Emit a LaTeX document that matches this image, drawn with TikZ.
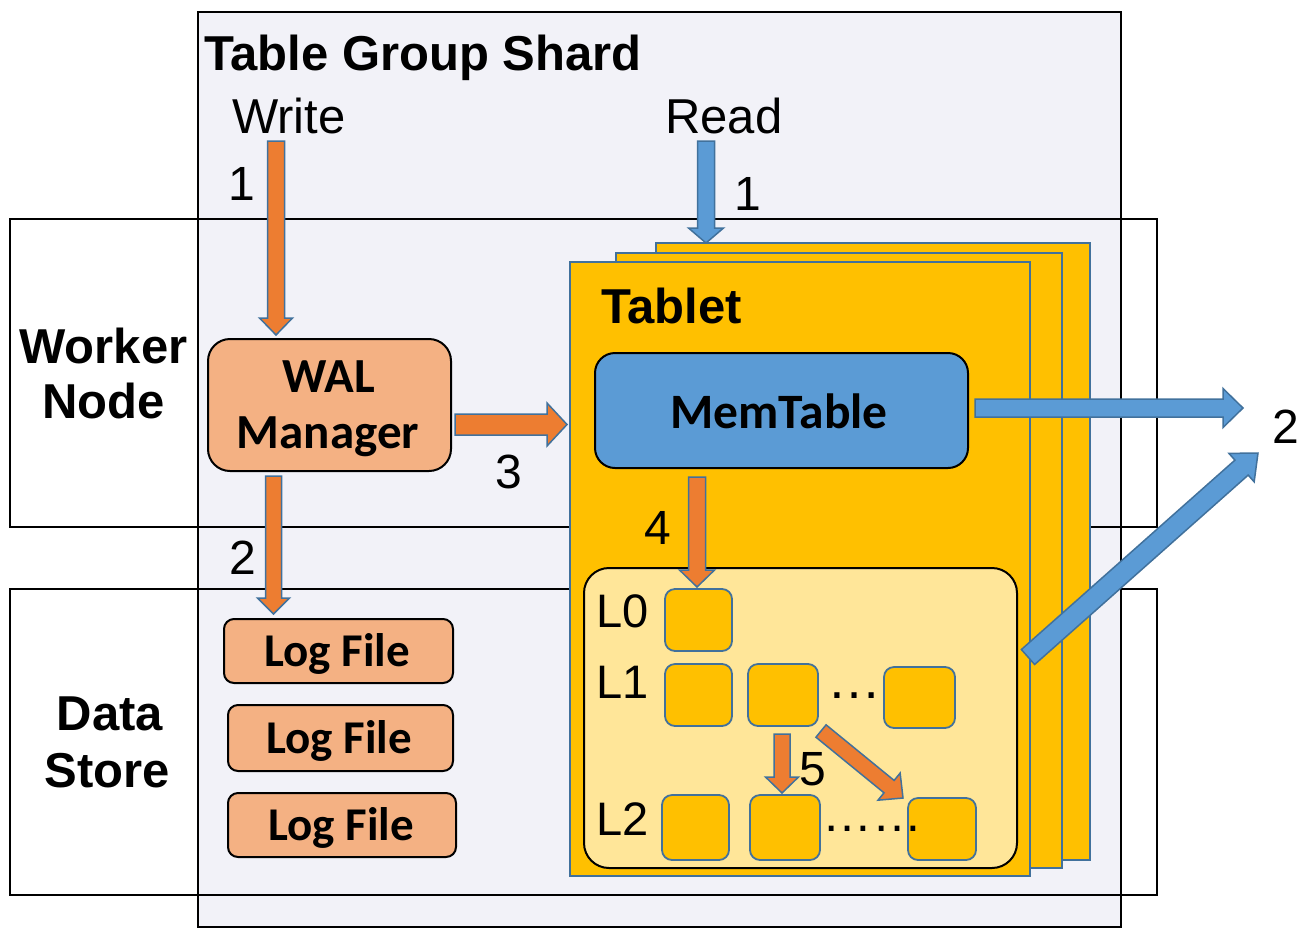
\documentclass[tikz,border=0pt]{standalone}
\usepackage{fontspec}
\setmainfont{Liberation Sans}
\newfontfamily\calib{Carlito}
\usetikzlibrary{calc}
\definecolor{shardbg}{HTML}{F2F2F8}
\definecolor{orng}{HTML}{ED7D31}
\definecolor{blu}{HTML}{5B9BD5}
\definecolor{edgeblue}{HTML}{41719C}
\definecolor{walfill}{HTML}{F4B183}
\definecolor{tabfill}{HTML}{FFC000}
\definecolor{lsmfill}{HTML}{FFE699}
\newcommand\blockarrow[6]{%
  \coordinate (ahb) at ($(#3)!#6!(#2)$);
  \draw[fill=#1, draw=edgeblue, line width=1.5pt, line join=miter]
    ($(#2)!#4!90:(#3)$) -- ($(ahb)!#4!90:(#3)$) -- ($(ahb)!#5!90:(#3)$) -- (#3)
    -- ($(ahb)!#5!-90:(#3)$) -- ($(ahb)!#4!-90:(#3)$) -- ($(#2)!#4!-90:(#3)$) -- cycle;
}
\tikzset{
  frame/.style={draw=black, line width=2pt},
  rbox/.style={draw=black, line width=2pt, inner sep=0pt},
  tabsheet/.style={draw=edgeblue, fill=tabfill, line width=2pt},
  sst/.style={draw=edgeblue, fill=tabfill, line width=1.8pt, rounded corners=10pt, inner sep=0pt},
  big/.style={font=\fontsize{49}{52}\selectfont, inner sep=0pt},
  lvl/.style={font=\fontsize{47}{52}\selectfont, inner sep=0pt, anchor=base west},
  bigb/.style={font=\bfseries\fontsize{49}{52}\selectfont, inner sep=0pt},
  num/.style={font=\fontsize{48}{50}\selectfont, inner sep=0pt, anchor=base},
  cal/.style={font=\calib\bfseries\fontsize{#1}{50}\selectfont, inner sep=0pt, anchor=base},
  cal/.default=47,
}
\begin{document}
\begin{tikzpicture}[x=1pt,y=-1pt]
\useasboundingbox (0,0) rectangle (1305,938);
% shard and bands
\node[frame, fill=shardbg, minimum width=923pt, minimum height=915pt, inner sep=0pt] (shard) at (659.5,469.5) {};
\node[frame, minimum width=1147pt, minimum height=308pt, inner sep=0pt] (worker) at (583.5,373) {};
\node[frame, minimum width=1147pt, minimum height=306pt, inner sep=0pt] (datastore) at (583.5,742) {};
% titles
\node[font=\bfseries\fontsize{49}{52}\selectfont, inner sep=0pt, anchor=base west] (tgs) at (204,70) {Table Group Shard};
\node[big, anchor=base west] (write) at (232,133) {Write};
\node[big, anchor=base west] (read) at (665,133) {Read};
\node[bigb, anchor=base] (wk1) at (103.5,363) {Worker};
\node[bigb, anchor=base] (wk2) at (103.5,418) {Node};
\node[bigb, anchor=base] (ds1) at (110,730) {Data};
\node[bigb, anchor=base] (ds2) at (107.5,787) {Store};
% WAL manager and log files
\node[rbox, fill=walfill, rounded corners=22pt, minimum width=243pt, minimum height=132pt] (wal) at (329.5,405) {};
\node[cal=49] (walt1) at (329,392) {WAL};
\node[cal=49] (walt2) at (328,448) {Manager};
\node[rbox, fill=walfill, rounded corners=10pt, minimum width=229pt, minimum height=64pt] (log1) at (338.5,651) {};
\node[rbox, fill=walfill, rounded corners=10pt, minimum width=225pt, minimum height=66pt] (log2) at (340.5,738) {};
\node[rbox, fill=walfill, rounded corners=10pt, minimum width=228pt, minimum height=64pt] (log3) at (342,825) {};
\node[cal=47] (logt1) at (337,666) {Log File};
\node[cal=47] (logt2) at (339,753) {Log File};
\node[cal=47] (logt3) at (341,840) {Log File};
% write path arrows
\coordinate (w0) at (276,141); \coordinate (w1) at (276,335);
\blockarrow{orng}{w0}{w1}{8.5pt}{16.5pt}{17pt}
\coordinate (l0) at (273.5,476); \coordinate (l1) at (273.5,614);
\blockarrow{orng}{l0}{l1}{8pt}{16pt}{16pt}
\coordinate (m0) at (455,424.5); \coordinate (m1) at (567,424.5);
\blockarrow{orng}{m0}{m1}{10.5pt}{21.5pt}{20pt}
\node[num] (n1w) at (242,200) {1};
\node[num] (n2w) at (243,574) {2};
\node[num] (n3w) at (509,488) {3};
% tablets
\node[tabsheet, minimum width=434pt, minimum height=617pt, inner sep=0pt] (tab3) at (873,551.5) {};
\node[tabsheet, minimum width=446pt, minimum height=615pt, inner sep=0pt] (tab2) at (839,560.5) {};
\node[tabsheet, minimum width=460pt, minimum height=614pt, inner sep=0pt] (tab1) at (800,569) {};
\node[bigb, anchor=base west] (tabt) at (601,323) {Tablet};
\coordinate (r0) at (706,141); \coordinate (r1) at (706,243);
\blockarrow{blu}{r0}{r1}{8.5pt}{17.5pt}{15pt}
\node[num] (n1r) at (748,210) {1};
% memtable
\node[rbox, fill=blu, rounded corners=20pt, minimum width=373pt, minimum height=115pt] (mem) at (781.5,410.5) {};
\node[cal=49.5] (memt) at (779,428) {MemTable};
% LSM container
\node[rbox, fill=lsmfill, rounded corners=25pt, minimum width=433pt, minimum height=300pt] (lsm) at (800.5,718) {};
\node[sst, minimum width=67pt, minimum height=62pt] (s00) at (698.5,620) {};
\node[sst, minimum width=67pt, minimum height=62pt] (s10) at (698.5,695) {};
\node[sst, minimum width=70pt, minimum height=62pt] (s11) at (783,695) {};
\node[sst, minimum width=71pt, minimum height=61pt] (s12) at (919.5,697.5) {};
\node[sst, minimum width=67pt, minimum height=65pt] (s20) at (695.5,827.5) {};
\node[sst, minimum width=70pt, minimum height=65pt] (s21) at (785,827.5) {};
\node[sst, minimum width=68pt, minimum height=62pt] (s22) at (942,829) {};
\node[lvl] (lv0) at (596,627) {L0};
\node[lvl] (lv1) at (596,698) {L1};
\node[lvl] (lv2) at (596,835) {L2};
\node[font=\fontsize{54}{56}\selectfont, inner sep=0pt, anchor=base] (dots1) at (854,698) {…};
\node[font=\fontsize{50}{56}\selectfont, inner sep=0pt, anchor=base] (dots2) at (872,831) {……};
% flush and compaction arrows
\coordinate (f0) at (697,477); \coordinate (f1) at (697,587);
\blockarrow{orng}{f0}{f1}{8.5pt}{17.5pt}{17pt}
\node[num] (n4) at (658,544) {4};
\coordinate (c0) at (782,734); \coordinate (c1) at (782,793);
\blockarrow{orng}{c0}{c1}{8pt}{16.5pt}{16pt}
\coordinate (d0) at (821,731); \coordinate (d1) at (903,798);
\blockarrow{orng}{d0}{d1}{8pt}{17.5pt}{18pt}
\node[num] (n5) at (813,785) {5};
% read outputs
\coordinate (o0) at (975,408); \coordinate (o1) at (1243,408);
\blockarrow{blu}{o0}{o1}{9pt}{19.5pt}{20pt}
\coordinate (p0) at (1028,657); \coordinate (p1) at (1258,453);
\blockarrow{blu}{p0}{p1}{10pt}{19pt}{22pt}
\node[num] (n2r) at (1286,443) {2};
\end{tikzpicture}
\end{document}
